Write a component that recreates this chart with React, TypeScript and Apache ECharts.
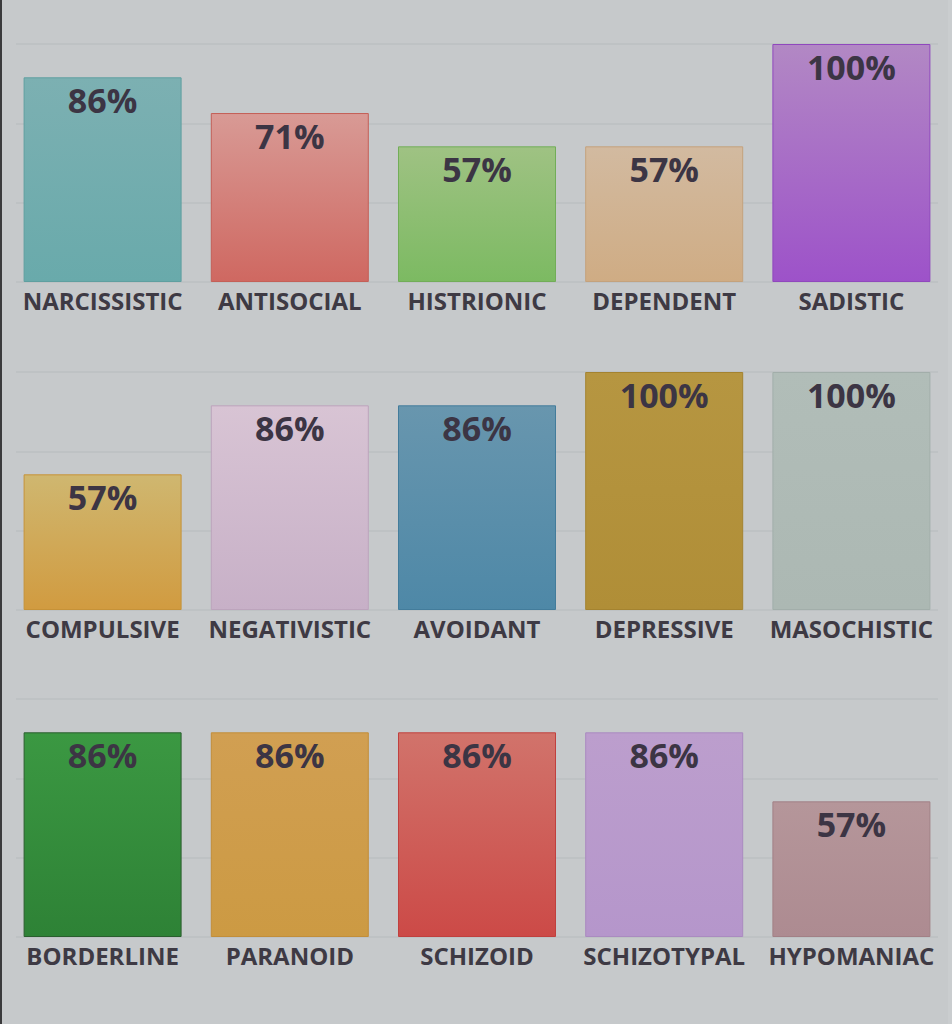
import React, { useEffect, useRef } from "react";
import * as echarts from "echarts";

const row1Categories = ["NARCISSISTIC", "ANTISOCIAL", "HISTRIONIC", "DEPENDENT", "SADISTIC"];
const row1Values = [86, 71, 57, 57, 100];
const row2Categories = ["COMPULSIVE", "NEGATIVISTIC", "AVOIDANT", "DEPRESSIVE", "MASOCHISTIC"];
const row2Values = [57, 86, 86, 100, 100];
const row3Categories = ["BORDERLINE", "PARANOID", "SCHIZOID", "SCHIZOTYPAL", "HYPOMANIAC"];
const row3Values = [86, 86, 86, 86, 57];

// [top, bottom, border]
const row1Colors = [
  ["#7cb0b2", "#69aaab", "#5f9fa0"],
  ["#d89a95", "#cf6861", "#c46058"],
  ["#9fc283", "#7cba62", "#72ad58"],
  ["#d2baa0", "#cfac84", "#c4a27d"],
  ["#b288c4", "#9d52c9", "#9048bd"],
];
const row2Colors = [
  ["#cfb770", "#d19b40", "#c69238"],
  ["#d8c4d4", "#c7b0c7", "#bca4bc"],
  ["#6896ae", "#4e88a7", "#437c9b"],
  ["#b69641", "#b08e37", "#a48330"],
  ["#b1bdb8", "#acb8b3", "#a2aeaa"],
];
const row3Colors = [
  ["#3b9842", "#2e8236", "#2a5e2e"],
  ["#d19f52", "#cc9a43", "#c28e3a"],
  ["#d1736b", "#cc4a47", "#c0403e"],
  ["#bc9ecd", "#b596cb", "#aa8bc0"],
  ["#b5969a", "#ad8b91", "#a28086"],
];

const rows = [
  { cats: row1Categories, vals: row1Values, colors: row1Colors, top: 44 },
  { cats: row2Categories, vals: row2Values, colors: row2Colors, top: 372 },
  { cats: row3Categories, vals: row3Values, colors: row3Colors, top: 699 },
];
const plotHeight = 238;

export default function App() {
  const ref = useRef<HTMLDivElement>(null);
  useEffect(() => {
    if (!ref.current) return;
    const chart = echarts.init(ref.current, null, { renderer: "svg" });
    const grids: any[] = [];
    const xAxes: any[] = [];
    const yAxes: any[] = [];
    const series: any[] = [];
    rows.forEach((r, i) => {
      grids.push({ left: 9, width: 936, top: r.top, height: plotHeight });
      grids.push({ left: 16, right: 14, top: r.top, height: plotHeight });
      const gBar = i * 2;
      const gLine = i * 2 + 1;
      xAxes.push({
        type: "category",
        gridIndex: gBar,
        data: r.cats,
        axisLine: { show: false },
        axisTick: { show: false },
        axisLabel: {
          color: "#3e3a44",
          fontFamily: "Open Sans",
          fontWeight: "bold",
          fontSize: 24,
          margin: 6,
          interval: 0,
        },
      });
      xAxes.push({ type: "category", gridIndex: gLine, data: r.cats, show: false });
      yAxes.push({
        type: "value",
        gridIndex: gBar,
        min: 0,
        max: 100,
        show: false,
        splitLine: { show: false },
      });
      yAxes.push({
        type: "value",
        gridIndex: gLine,
        min: 0,
        max: 100,
        interval: 100 / 3,
        axisLabel: { show: false },
        axisLine: { show: false },
        axisTick: { show: false },
        splitLine: { show: true, lineStyle: { color: "#bbbfc2", width: 1.5 } },
      });
      series.push({
        type: "bar",
        xAxisIndex: gBar,
        yAxisIndex: gBar,
        barWidth: 158,
        data: r.vals.map((v, j) => ({
          value: v,
          itemStyle: {
            color: new echarts.graphic.LinearGradient(0, 0, 0, 1, [
              { offset: 0, color: r.colors[j][0] },
              { offset: 1, color: r.colors[j][1] },
            ]),
            borderColor: r.colors[j][2],
            borderWidth: 1,
          },
        })),
        label: {
          show: true,
          position: "insideTop",
          distance: 6,
          formatter: "{c}%",
          color: "#3c3544",
          fontFamily: "Open Sans",
          fontWeight: "bold",
          fontSize: 34,
        },
      });
    });
    chart.setOption({
      animation: false,
      backgroundColor: "#c6c9cb",
      grid: grids,
      xAxis: xAxes,
      yAxis: yAxes,
      series,
      graphic: [
        { type: "rect", shape: { x: 0, y: 0, width: 2, height: 1024 }, style: { fill: "#3a3a3c" } },
        { type: "rect", shape: { x: 948, y: 0, width: 4, height: 1024 }, style: { fill: "#cacdcf" } },
      ],
    });
    return () => chart.dispose();
  }, []);
  return (
    <div
      ref={ref}
      style={{ position: "fixed", left: 0, top: 0, width: 952, height: 1024 }}
    />
  );
}
